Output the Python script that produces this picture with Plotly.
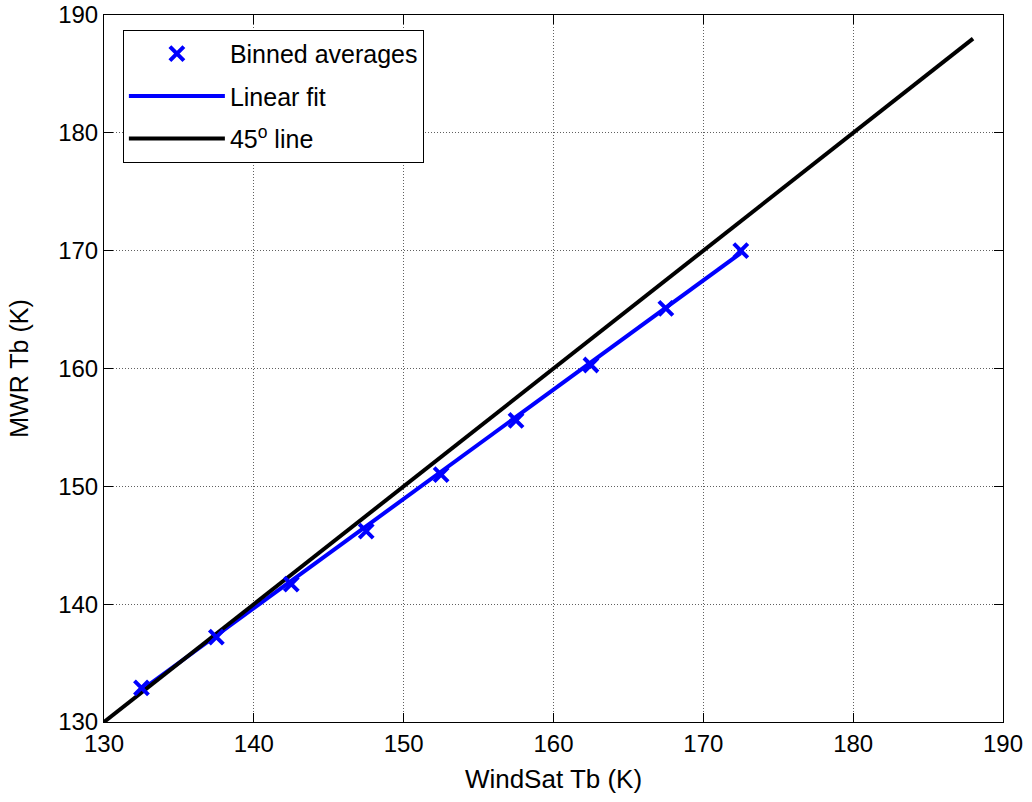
import plotly.graph_objects as go

# Binned averages of MWR vs WindSat brightness temperature (K)
bin_x = [132.5, 137.5, 142.5, 147.5, 152.5, 157.5, 162.5, 167.5, 172.5]
bin_y = [132.9, 137.2, 141.7, 146.2, 151.0, 155.6, 160.3, 165.1, 170.0]

# Linear fit endpoints across the binned range
fit_x = [132.5, 172.5]
fit_y = [132.7, 169.8]

# One-to-one reference line
ref_x = [130, 188]
ref_y = [130, 188]

tick_vals = [130, 140, 150, 160, 170, 180, 190]

FONT = "Liberation Sans, Arial, sans-serif"

fig = go.Figure()

# lines first so the markers sit on top; legendrank keeps the key order
fig.add_trace(go.Scatter(
    x=fit_x, y=fit_y, mode="lines", name="Linear fit",
    legendgroup="b", legendrank=2,
    line=dict(color="#0000ff", width=4),
))
fig.add_trace(go.Scatter(
    x=ref_x, y=ref_y, mode="lines", name="45<sup>o</sup> line",
    legendgroup="c", legendrank=3,
    line=dict(color="#000000", width=4),
))
fig.add_trace(go.Scatter(
    x=bin_x, y=bin_y, mode="markers", name="Binned averages",
    legendgroup="a", legendrank=1,
    marker=dict(symbol="x-thin", size=14, color="#0000ff",
                line=dict(color="#0000ff", width=4)),
))

axis_common = dict(
    showline=True, linecolor="black", linewidth=1, mirror="ticks",
    ticks="inside", ticklen=9, tickcolor="black", tickwidth=1,
    showgrid=True, gridcolor="#606060", gridwidth=1, griddash="1px,2px",
    zeroline=False, tickvals=tick_vals, automargin=False,
    tickfont=dict(family=FONT, size=24, color="black"),
)

fig.update_xaxes(range=[130, 190],
                 title=dict(text="WindSat Tb (K)", standoff=14,
                            font=dict(family=FONT, size=26, color="black")),
                 **axis_common)
fig.update_yaxes(range=[130, 190],
                 title=dict(text="MWR Tb (K)", standoff=22,
                            font=dict(family=FONT, size=25, color="black")),
                 **axis_common)

fig.update_layout(
    width=1032, height=802,
    margin=dict(l=104, r=29, t=15, b=80),
    paper_bgcolor="white", plot_bgcolor="white",
    font=dict(family=FONT, size=24, color="black"),
    showlegend=True,
    legend=dict(
        x=0.021, y=0.979, xanchor="left", yanchor="top",
        bgcolor="white", bordercolor="black", borderwidth=1,
        font=dict(family=FONT, size=25, color="black"),
        traceorder="grouped", tracegroupgap=7, itemwidth=96,
    ),
)

fig.write_html("out.html")
